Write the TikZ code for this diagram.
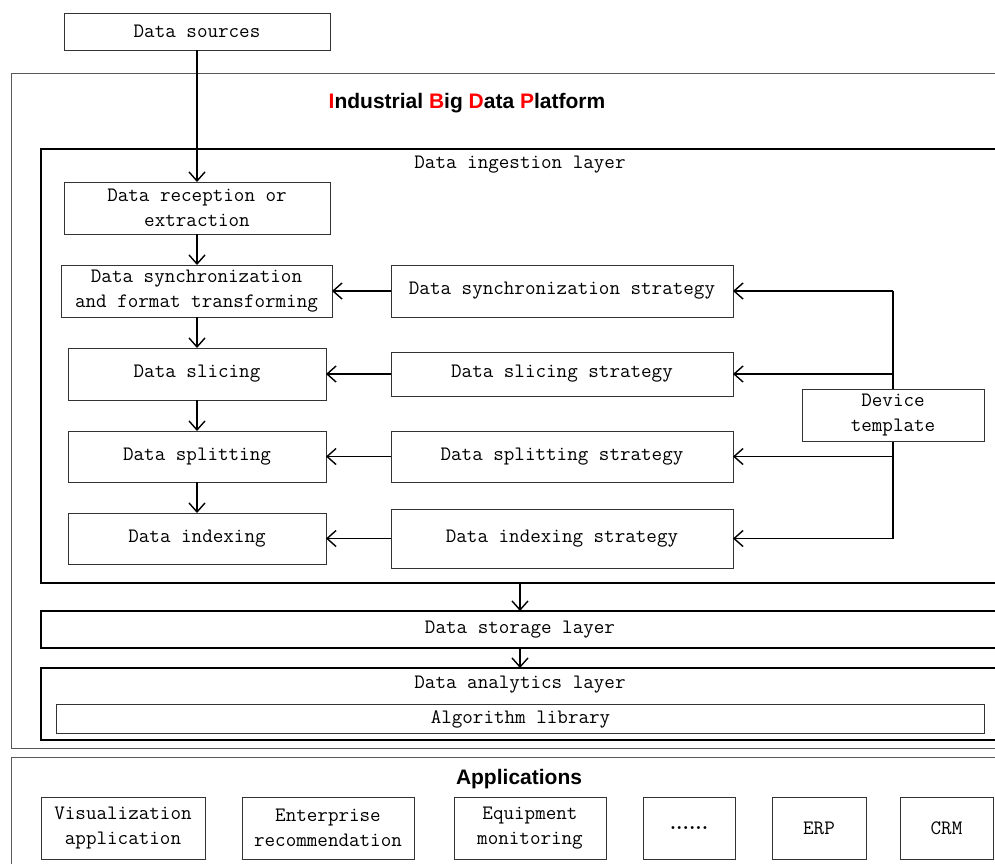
\documentclass[tikz,border=0pt]{standalone}
\usepackage{fontspec}
\newfontfamily\arialfont{Liberation Sans}
\usetikzlibrary{arrows.meta}
\definecolor{boxline}{gray}{0.2}
\definecolor{outerline}{gray}{0.35}
\begin{document}
\begin{tikzpicture}[x=1pt,y=-1pt,
  txt/.style={font=\fontsize{20.5pt}{25pt}\selectfont\ttfamily, align=center, inner sep=0pt},
  box/.style={txt, draw=boxline, line width=1pt, fill=white, outer sep=0pt},
  layer/.style={draw=black, line width=1.8pt, outer sep=0pt, inner sep=0pt},
  outerbox/.style={draw=outerline, line width=1pt, outer sep=0pt, inner sep=0pt},
  heading/.style={font=\fontsize{21pt}{25pt}\selectfont\arialfont\bfseries, inner sep=0pt},
  conn/.style={line width=1.5pt, -{Straight Barb[length=9pt,width=16pt,line width=1.4pt]}},
  plain/.style={line width=1.5pt}
]
\useasboundingbox (0,0) rectangle (995,863);
\clip (0,0) rectangle (995,863);

% outer frames
\node[outerbox, minimum width=1018pt, minimum height=675pt] (platform) at (520,410.5) {};
\node[outerbox, minimum width=1018pt, minimum height=130pt] (apps) at (520,822) {};
\node[heading] (ptitle) at (467,103.5) {\textcolor{red}{I}ndustrial \textcolor{red}{B}ig \textcolor{red}{D}ata \textcolor{red}{P}latform};
\node[heading] (atitle) at (519,779.5) {Applications};

% layers
\node[layer, minimum width=958pt, minimum height=434pt] (ing) at (520,366) {};
\node[txt] (inglbl) at (520,165) {Data ingestion layer};
\node[layer, minimum width=958pt, minimum height=37pt, txt] (stor) at (520,629.5) {Data storage layer};
\node[layer, minimum width=958pt, minimum height=72pt] (ana) at (520,704) {};
\node[txt] (analbl) at (520,685) {Data analytics layer};
\node[box, minimum width=928pt, minimum height=29pt] (alg) at (520.5,719) {Algorithm library};

% source
\node[box, minimum width=266pt, minimum height=37pt] (src) at (197,31.5) {Data sources};

% left column
\node[box, minimum width=266pt, minimum height=52pt] (rec) at (197,208) {Data reception or\\extraction};
\node[box, minimum width=271pt, minimum height=52pt] (sync) at (196.5,291) {Data synchronization\\and format transforming};
\node[box, minimum width=258pt, minimum height=52pt] (slice) at (197,374) {Data slicing};
\node[box, minimum width=258pt, minimum height=51pt] (split) at (197,456.5) {Data splitting};
\node[box, minimum width=258pt, minimum height=51pt] (idx) at (197,538.5) {Data indexing};

% strategies
\node[box, minimum width=342pt, minimum height=52pt] (ssync) at (562,291) {Data synchronization strategy};
\node[box, minimum width=342pt, minimum height=44pt] (sslice) at (562,374) {Data slicing strategy};
\node[box, minimum width=342pt, minimum height=51pt] (ssplit) at (562,456.5) {Data splitting strategy};
\node[box, minimum width=342pt, minimum height=59pt] (sidx) at (562,538.5) {Data indexing strategy};

% device template bus
\coordinate (j1) at (893,291);
\coordinate (j2) at (893,374);
\coordinate (j3) at (893,456.5);
\coordinate (j4) at (893,538.5);
\draw[plain] (j1) -- (j4);
\draw[conn] (j1) -- (ssync.east);
\draw[conn] (j2) -- (sslice.east);
\draw[conn] (j3) -- (ssplit.east);
\draw[conn] (j4) -- (sidx.east);
\node[box, minimum width=182pt, minimum height=52pt] (dev) at (893,415) {Device\\template};

% vertical flow
\draw[conn] (src.south) -- (rec.north);
\draw[conn] (rec.south) -- (sync.north -| rec.south);
\draw[conn] (sync.south -| rec.south) -- (slice.north);
\draw[conn] (slice.south) -- (split.north);
\draw[conn] (split.south) -- (idx.north);

% strategies to steps
\draw[conn] (ssync.west) -- (sync.east);
\draw[conn] (sslice.west) -- (slice.east);
\draw[conn] (ssplit.west) -- (split.east);
\draw[conn] (sidx.west) -- (idx.east);

% layers
\draw[conn] (ing.south) -- (stor.north);
\draw[conn] (stor.south) -- (ana.north);

% applications
\node[box, minimum width=164pt, minimum height=62pt] (vis) at (123,828) {Visualization\\application};
\node[box, minimum width=172pt, minimum height=62pt] (ent) at (328,828) {Enterprise\\recommendation};
\node[box, minimum width=152pt, minimum height=62pt] (equ) at (530,828) {Equipment\\monitoring};
\node[box, minimum width=92pt, minimum height=62pt] (dots) at (689,828) {{\rmfamily\bfseries ......}};
\node[box, minimum width=94pt, minimum height=62pt] (erp) at (819,828) {ERP};
\node[box, minimum width=93pt, minimum height=62pt] (crm) at (946.5,828) {CRM};
\end{tikzpicture}
\end{document}
